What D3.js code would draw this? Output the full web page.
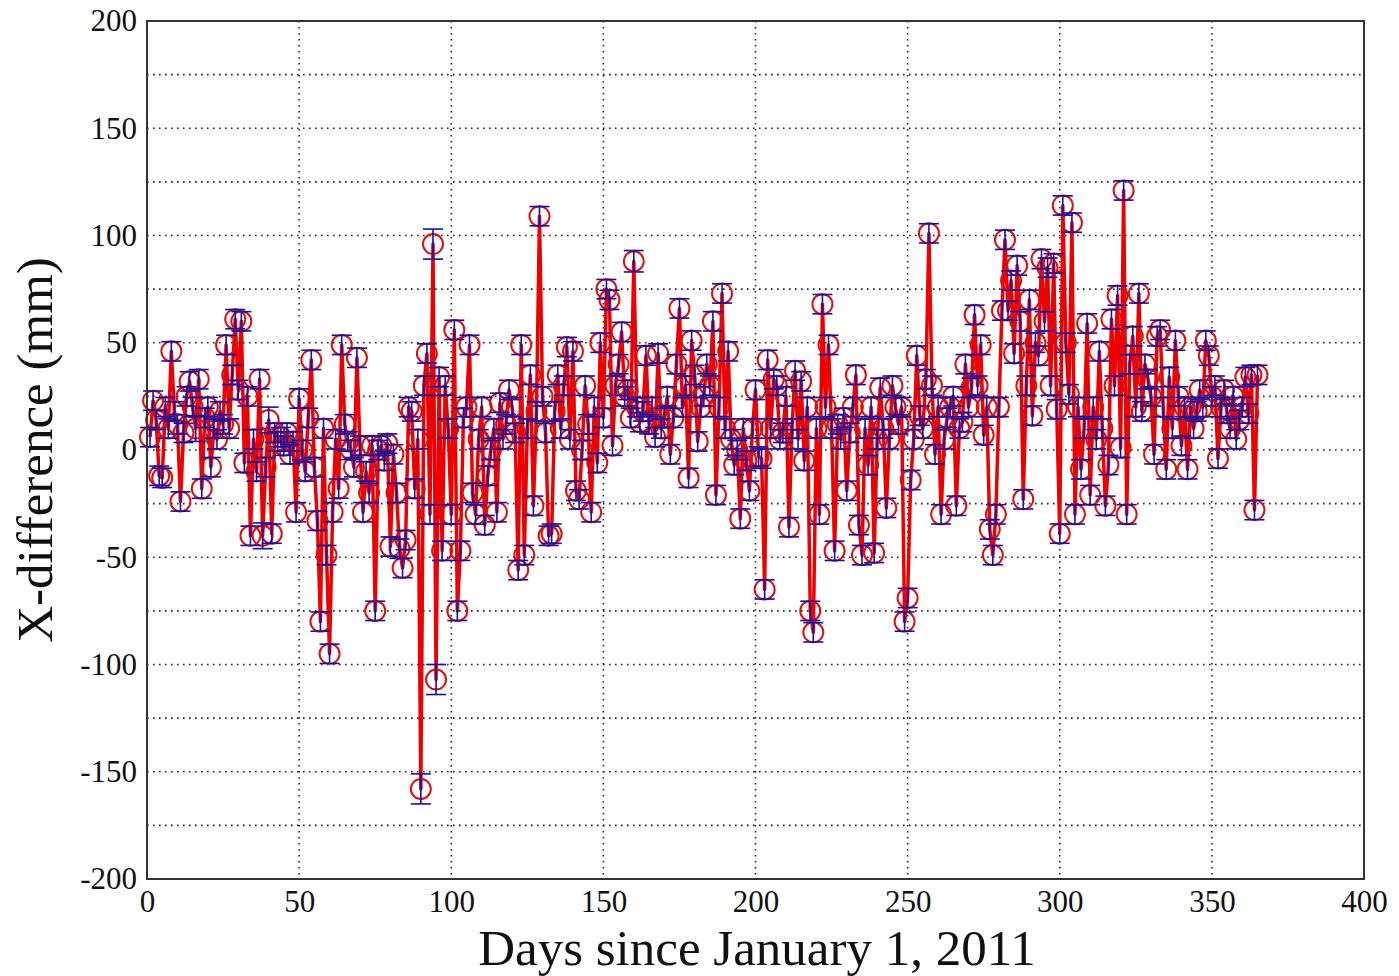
<!DOCTYPE html>
<html>
<head>
<meta charset="utf-8">
<script src="https://cdn.jsdelivr.net/npm/d3@7"></script>
<style>
  html, body { margin: 0; padding: 0; background: #fff; }
  svg { display: block; }
</style>
</head>
<body>
<svg id="chart" width="1399" height="976"></svg>
<script>
// ---- data ----
const xTicks = [0, 50, 100, 150, 200, 250, 300, 350, 400];
const yTicks = [-200, -150, -100, -50, 0, 50, 100, 150, 200];
const xTitle = "Days since January 1, 2011";
const yTitle = "X-difference (mm)";
const firstDay = 1;
// X-difference (mm), one value per day starting at day 1
const xDiff = [
  6, 23, 14, -12, -13, 20, 10, 46, 18, 12,
  -24, 8, 25, 32, 20, 10, 33, -18, 15, 20,
  -8, 10, 5, 18, 12, 49, 10, 35, 61, 28,
  60, -6, 25, -40, 5, -10, 33, -40, -8, 14,
  -39, 8, 4, 6, 2, 8, -2, 4, -29, 24,
  0, -10, 15, 42, -8, -33, -80, 10, -49, -95,
  -29, 5, -18, 49, 12, 4, 0, -8, 43, 2,
  -29, -10, -20, 2, -75, 0, 2, -5, 3, -45,
  -2, -20, -46, -55, -42, 20, 18, -18, 5, -158,
  30, 45, -30, 96, -107, 34, -47, 30, 10, -30,
  56, -75, -47, 15, 20, 49, -20, -30, 5, 20,
  -35, -12, 0, 10, -29, 22, 5, 12, 28, 20,
  8, -56, 49, -49, 10, 35, -26, 18, 109, 25,
  8, -40, -39, 18, 35, 10, 30, 48, 5, 46,
  -19, -23, 0, 30, 12, -29, 20, -6, 50, 15,
  75, 70, 2, 30, 40, 55, 25, 28, 15, 88,
  20, 13, 18, 44, 12, 20, 6, 45, 10, 15,
  25, -2, 15, 40, 66, 20, 30, -13, 51, 35,
  4, 20, 25, 40, 30, 60, -21, 20, 73, 10,
  46, 5, -7, 0, -32, 10, -5, -19, 10, 28,
  -3, -4, -65, 42, 10, 33, 30, 5, 8, 25,
  -36, 10, 37, 5, 32, -5, 20, -75, -85, 10,
  -30, 68, 20, 49, 10, -47, 12, 5, 15, -19,
  8, 20, 35, -35, -49, 10, -7, 20, -48, 5,
  29, 10, -27, 5, 30, 20, 12, 20, -80, -69,
  -14, 5, 44, 16, 10, 33, 101, 30, -2, 20,
  -30, 5, 15, 20, 25, -26, 10, 13, 40, 20,
  29, 63, 30, 49, 7, 20, -37, -49, -30, 20,
  65, 98, 65, 79, 45, 86, 60, -23, 30, 70,
  16, 50, 44, 89, 60, 85, 30, 87, 19, -39,
  114, 50, 26, 106, -30, 20, -9, 10, 59, -21,
  20, 5, 46, 10, -26, -7, 61, 30, 72, 1,
  121, -30, 40, 53, 20, 73, 18, 40, 33, 25,
  -2, 53, 56, 20, -9, 34, 10, 51, 25, 2,
  20, -9, 20, 10, 18, 28, 20, 51, 44, 25,
  30, -4, 20, 28, 17, 10, 25, 5, 14, 20,
  34, 17, 35, -28, 35
];
// error bar half-length (mm): usual value and larger exceptions [day, error]
const usualError = 4.5;
const errorExceptions = [[90, 7], [94, 7], [95, 7], [160, 5], [16, 6], [38, 6], [40, 6]];

// ---- layout ----
const svg = d3.select("#chart");
const L = 147, R = 1364, T = 21, B = 879;
const x = d3.scaleLinear().domain([0, 400]).range([L, R]);
const y = d3.scaleLinear().domain([-200, 200]).range([B, T]);
const serif = "'Liberation Serif', 'DejaVu Serif', serif";

const errMap = new Map(errorExceptions);
const data = xDiff.map((v, i) => {
  const day = firstDay + i;
  return { day, v, e: errMap.has(day) ? errMap.get(day) : usualError };
});

// grid
const grid = svg.append("g");
grid.selectAll("line.vg").data(xTicks.filter(t => t > 0 && t < 400)).join("line")
  .attr("x1", d => x(d)).attr("x2", d => x(d)).attr("y1", T).attr("y2", B)
  .attr("stroke", "#222").attr("stroke-width", 1.6).attr("stroke-dasharray", "1.6,4.4");
const hgrid = d3.range(-175, 200, 25);
grid.selectAll("line.hg").data(hgrid).join("line")
  .attr("x1", L).attr("x2", R).attr("y1", d => y(d)).attr("y2", d => y(d))
  .attr("stroke", "#222").attr("stroke-width", 1.6).attr("stroke-dasharray", "1.6,4.4");

// axes (labels only, no tick marks)
const fmt = d => String(d);
const xAxis = d3.axisBottom(x).tickValues(xTicks).tickFormat(fmt).tickSize(0).tickPadding(11);
const gx = svg.append("g").attr("transform", `translate(0,${B})`).call(xAxis);
gx.select(".domain").remove();
gx.selectAll("text").attr("font-family", serif).attr("font-size", 31).attr("fill", "#111");

const yAxis = d3.axisLeft(y).tickValues(yTicks).tickFormat(fmt).tickSize(0).tickPadding(10);
const gy = svg.append("g").attr("transform", `translate(${L},0)`).call(yAxis);
gy.select(".domain").remove();
gy.selectAll("text").attr("font-family", serif).attr("font-size", 31).attr("fill", "#111");

// line
const line = d3.line().x(d => x(d.day)).y(d => y(d.v));
svg.append("path").datum(data).attr("d", line)
  .attr("fill", "none").attr("stroke", "#ee0000").attr("stroke-width", 3.5)
  .attr("stroke-linejoin", "round");

// circles
svg.append("g").selectAll("circle").data(data).join("circle")
  .attr("cx", d => x(d.day)).attr("cy", d => y(d.v)).attr("r", 10)
  .attr("fill", "none").attr("stroke", "#dd1010").attr("stroke-width", 2);

// error bars
const eb = svg.append("g").attr("stroke", "#1010b0").attr("stroke-width", 1.6);
eb.selectAll("line.v").data(data).join("line")
  .attr("x1", d => x(d.day)).attr("x2", d => x(d.day))
  .attr("y1", d => y(d.v - d.e)).attr("y2", d => y(d.v + d.e));
eb.selectAll("line.t").data(data).join("line")
  .attr("x1", d => x(d.day) - 10).attr("x2", d => x(d.day) + 10)
  .attr("y1", d => y(d.v + d.e)).attr("y2", d => y(d.v + d.e));
eb.selectAll("line.b").data(data).join("line")
  .attr("x1", d => x(d.day) - 10).attr("x2", d => x(d.day) + 10)
  .attr("y1", d => y(d.v - d.e)).attr("y2", d => y(d.v - d.e));

// frame
svg.append("rect").attr("x", L).attr("y", T).attr("width", R - L).attr("height", B - T)
  .attr("fill", "none").attr("stroke", "#333").attr("stroke-width", 2);

// titles
svg.append("text").attr("x", 757).attr("y", 965).attr("text-anchor", "middle")
  .attr("font-family", serif).attr("font-size", 51)
  .attr("fill", "#111").text(xTitle);
svg.append("text").attr("transform", "translate(52,450) rotate(-90)").attr("text-anchor", "middle")
  .attr("font-family", serif).attr("font-size", 51)
  .attr("fill", "#111").text(yTitle);
</script>
</body>
</html>
